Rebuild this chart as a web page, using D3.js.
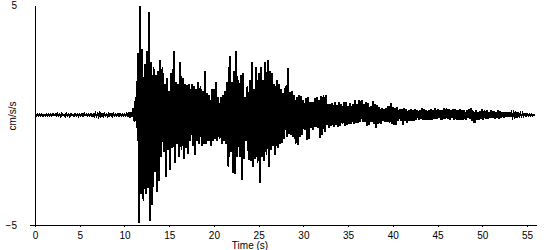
<!DOCTYPE html>
<html>
<head>
<meta charset="utf-8">
<script src="https://cdn.jsdelivr.net/npm/d3@7"></script>
<style>
  body { margin: 0; background: #fff; }
  svg { display: block; }
  text { font-family: "Liberation Sans", Arial, sans-serif; font-size: 10px; fill: #000; }
</style>
</head>
<body>
<svg id="chart" width="550" height="250"></svg>
<script>
// sample spacing of the record, seconds
const sampleStep = 0.25;

// peak values: upper swing at t, lower swing half a step later
const upper = [
    0.03, 0.02, 0.04, 0.03, 0.02, 0.03, 0.03, 0.02, 0.04, 0.03,
    0.06, 0.03, 0.05, 0.02, 0.06, 0.03, 0.04, 0.02, 0.05, 0.03,
    0.04, 0.03, 0.06, 0.02, 0.03, 0.04, 0.03, 0.07, 0.06, 0.08,
    0.05, 0.06, 0.03, 0.05, 0.04, 0.06, 0.03, 0.05, 0.04, 0.03,
    0.04, 0.05, 0.08, 0.12,
    0.3, 0.8, 2.8, 4.95, 3.0, 2.3,
    2.9, 4.7, 2.4, 2.2, 1.8, 2.0, 2.5, 2.2, 1.4, 1.7,
    1.1, 1.9, 2.9, 1.5, 1.4, 2.4, 1.7, 1.4,
    1.35, 1.4, 1.4, 1.3, 1.2, 1.5, 1.3, 1.1, 2.0, 1.0,
    0.9, 1.2, 1.2, 1.5, 0.8, 0.8, 0.9, 1.1, 1.5, 2.7,
    1.5, 2.0, 2.9, 1.6, 1.8, 1.9,
    0.8, 1.3, 1.6, 2.4, 1.2, 2.2, 1.9, 2.2, 1.6, 2.4,
    2.5, 2.0, 1.9, 1.4, 1.6, 1.4, 1.2, 1.0, 1.3, 2.15,
    1.05, 1.1, 0.9, 0.8, 0.9, 0.85, 0.7,
    0.75, 0.8, 0.6, 0.6, 0.75, 0.8, 0.7, 0.85, 0.9, 0.9,
    0.5, 0.5, 0.55, 0.6, 0.45, 0.6, 0.5, 0.6, 0.6, 0.4,
    0.55, 0.5, 0.7, 0.5, 0.7, 0.7, 0.5,
    0.6, 0.55, 0.4, 0.65, 0.5, 0.45, 0.35, 0.3, 0.25, 0.3,
    0.4, 0.53, 0.35, 0.3, 0.35, 0.25, 0.25, 0.3, 0.25, 0.22,
    0.25, 0.22, 0.27, 0.23, 0.22, 0.3, 0.25, 0.22, 0.22, 0.25,
    0.22, 0.3, 0.25, 0.22, 0.2, 0.3, 0.3, 0.25, 0.22,
    0.25, 0.28, 0.22, 0.26, 0.22, 0.2, 0.23, 0.26, 0.3, 0.2,
    0.2, 0.15, 0.18, 0.25, 0.2, 0.2, 0.15, 0.2, 0.18, 0.15,
    0.2, 0.18, 0.15, 0.15, 0.12, 0.12, 0.1, 0.1, 0.08, 0.08,
    0.07, 0.07, 0.05, 0.05, 0.04, 0.03, 0.02
];

const lower = [
    -0.03, -0.03, -0.02, -0.04, -0.03, -0.02, -0.03, -0.03, -0.02, -0.03,
    -0.03, -0.06, -0.02, -0.05, -0.03, -0.06, -0.02, -0.04, -0.03, -0.05,
    -0.03, -0.05, -0.02, -0.04, -0.03, -0.03, -0.06, -0.05, -0.08, -0.06,
    -0.06, -0.04, -0.05, -0.03, -0.06, -0.04, -0.03, -0.04, -0.03, -0.04,
    -0.03, -0.04, -0.06, -0.1,
    -0.3, -0.6, -4.9, -3.6, -3.9, -3.6,
    -3.3, -4.8, -4.1, -2.6, -3.5, -3.0, -1.9, -1.7, -2.8, -1.6,
    -2.5, -1.5, -2.2, -1.3, -1.9, -1.6, -2.0, -1.5,
    -1.75, -1.2, -1.4, -1.8, -1.2, -1.3, -1.4, -1.3, -1.3, -1.2,
    -1.4, -1.2, -1.1, -1.2, -1.1, -1.3, -1.2, -1.3, -2.35, -1.7,
    -2.65, -2.7, -1.9, -1.9, -2.95, -2.0,
    -1.2, -2.05, -2.1, -2.35, -2.0, -2.2, -3.1, -1.9, -2.1, -1.8,
    -2.35, -1.6, -1.4, -1.8, -1.5, -1.3, -1.25, -1.1, -1.0, -0.85,
    -0.9, -1.0, -1.3, -1.35, -1.0, -0.9, -0.7,
    -1.15, -1.1, -0.6, -0.7, -0.55, -0.6, -1.05, -0.9, -0.75, -0.45,
    -0.6, -0.5, -0.55, -0.45, -0.55, -0.5, -0.4, -0.5, -0.45, -0.4,
    -0.4, -0.4, -0.35, -0.35, -0.3, -0.3, -0.3,
    -0.5, -0.45, -0.3, -0.4, -0.6, -0.4, -0.4, -0.25, -0.3, -0.3,
    -0.35, -0.4, -0.45, -0.45, -0.25, -0.25, -0.45, -0.25, -0.35, -0.25,
    -0.25, -0.25, -0.2, -0.2, -0.2, -0.23, -0.22, -0.23, -0.2, -0.23,
    -0.2, -0.2, -0.15, -0.2, -0.2, -0.2, -0.2, -0.2, -0.15,
    -0.23, -0.23, -0.2, -0.2, -0.22, -0.23, -0.15, -0.2, -0.25, -0.38,
    -0.2, -0.2, -0.18, -0.2, -0.17, -0.18, -0.15, -0.15, -0.18, -0.15,
    -0.17, -0.12, -0.12, -0.1, -0.1, -0.1, -0.08, -0.08, -0.06, -0.05,
    -0.05, -0.04, -0.03, -0.03, -0.03, -0.02, -0.02
];

const xTicks = [0, 5, 10, 15, 20, 25, 30, 35, 40, 45, 50, 55];
const yTicks = [-5, 5];

const svg = d3.select('#chart');

const x = d3.scaleLinear().domain([0, 56]).range([35, 536]);
const y = d3.scaleLinear().domain([-5, 5]).range([225, 5]);

// zigzag through the swings
const points = [];
upper.forEach((u, i) => {
    points.push({t: i * sampleStep, v: u});
    points.push({t: i * sampleStep + sampleStep / 2, v: lower[i]});
});

const line = d3.line()
    .x((d) => x(d.t))
    .y((d) => y(d.v));

svg.append('path')
    .datum(points)
    .attr('d', line)
    .attr('fill', 'none')
    .attr('stroke', '#000')
    .attr('stroke-width', 1.9)
    .attr('stroke-linejoin', 'miter')
    .attr('shape-rendering', 'crispEdges');

const xAxis = svg.append('g')
    .attr('transform', 'translate(0,' + y(-5) + ')')
    .call(d3.axisBottom(x).tickValues(xTicks).tickSize(2).tickSizeOuter(0).tickPadding(5));

const yAxis = svg.append('g')
    .attr('transform', 'translate(' + x(0) + ',0)')
    .call(d3.axisLeft(y).tickValues(yTicks).tickSize(5).tickSizeOuter(0).tickPadding(13));

// only the bottom tick shows a mark
yAxis.selectAll('.tick').filter((d) => d === 5).select('line').remove();

[xAxis, yAxis].forEach((g) => {
    g.selectAll('path, line').attr('stroke', '#000').attr('shape-rendering', 'crispEdges');
    g.selectAll('text').style('font-family', '"Liberation Sans", Arial, sans-serif').style('font-size', '10px').attr('fill', '#000');
});

svg.append('text')
    .attr('x', 250)
    .attr('y', 249)
    .attr('text-anchor', 'middle')
    .text('Time (s)');

svg.append('text')
    .attr('transform', 'translate(16,116) rotate(-90)')
    .attr('text-anchor', 'middle')
    .text('cm/s/s');
</script>
</body>
</html>
